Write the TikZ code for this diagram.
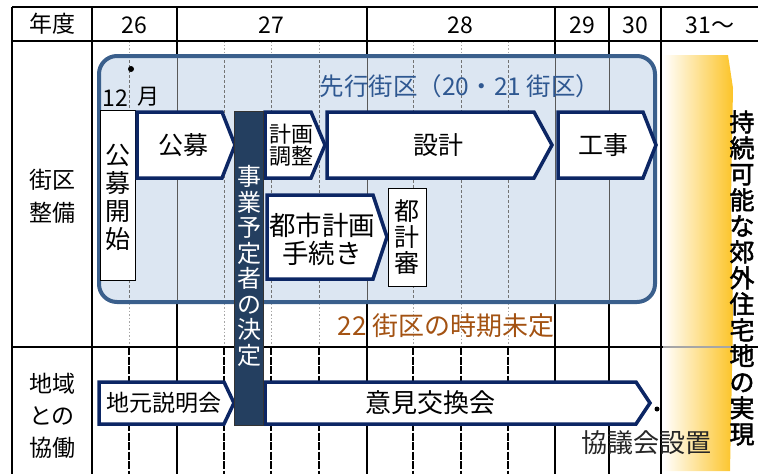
\documentclass[tikz,border=0pt]{standalone}
\usepackage{fontspec}
\setmainfont{Noto Sans CJK JP}
\newfontfamily\jpheavy{Noto Sans CJK JP}[FakeBold=1.9]
\definecolor{navy}{RGB}{12,38,100}
\definecolor{boxblue}{RGB}{58,95,140}
\definecolor{boxfill}{RGB}{220,230,242}
\definecolor{barfill}{RGB}{36,63,96}
\definecolor{txtblue}{RGB}{47,88,145}
\definecolor{brownt}{RGB}{163,82,18}
\definecolor{goldy}{RGB}{252,196,40}
\newcommand\fsz[2]{\fontsize{#1}{#2}\selectfont}
\tikzset{
  tabline/.style={line width=1.8pt, black},
  arrowbox/.style={draw=navy, line width=3.5pt, fill=white, line join=miter},
  plainbox/.style={draw=black, line width=0.9pt, fill=white},
  lbl/.style={inner sep=0pt, align=center},
}
\begin{document}
\begin{tikzpicture}[x=1pt,y=-1pt]
\useasboundingbox (0,0) rectangle (758,474);
\begin{scope}
\clip (0,0) rectangle (758,474);
% yellow band
\shade[left color=white, right color=goldy] (663,55) -- (728,55) -- (733,88) -- (731,200) -- (733,320) -- (730,471) -- (663,471) -- cycle;
% sub-month lines
\foreach \x in {129,224,271,319,413,461,508} {
  \draw[gray!70, line width=1pt, dash pattern=on 1.5pt off 2pt] (\x,41) -- (\x,347);
  \draw[black, line width=1.6pt, dash pattern=on 8pt off 1.5pt] (\x,347) -- (\x,474);
}
% table lines
\draw[tabline] (12,7) -- (758,7);
\draw[tabline] (12,41) -- (758,41);
\draw[tabline] (12,347) -- (663,347);
\draw[line width=1.8pt, gray!70] (663,347) -- (731,347);
\draw[tabline] (731,347) -- (758,347);
\foreach \x in {12,92,177,367,555,609,661} \draw[tabline] (\x,7) -- (\x,474);
% blue box
\fill[boxfill, rounded corners=18pt] (99,56) rectangle (655,302);
\begin{scope}
\clip[rounded corners=18pt] (99,56) rectangle (655,302);
\foreach \x in {177,367,555,609} \draw[black!65, line width=0.9pt] (\x,50) -- (\x,310);
\foreach \x in {129,224,271,319,413,461,508} \draw[black!55, line width=0.8pt, dash pattern=on 3pt off 2pt] (\x,50) -- (\x,310);
\end{scope}
\draw[boxblue, line width=4pt, rounded corners=18pt] (99,56) rectangle (655,302);
\fill (131,69) circle (3pt);
\end{scope}

% header
\node[lbl, font=\fsz{23}{23}] (hy) at (52,24) {年度};
\node[lbl, font=\fsz{23}{23}] (h26) at (134,25) {26};
\node[lbl, font=\fsz{23}{23}] (h27) at (271,25) {27};
\node[lbl, font=\fsz{23}{23}] (h28) at (460,25) {28};
\node[lbl, font=\fsz{23}{23}] (h29) at (582,25) {29};
\node[lbl, font=\fsz{23}{23}] (h30) at (635,25) {30};
\node[lbl, font=\fsz{23}{23}] (h31) at (710,25) {31～};
% row labels
\node[lbl, font=\fsz{23}{33}] (r1) at (52,196) {街区\\整備};
\node[lbl, font=\fsz{23}{32}] (r2) at (52,416) {地域\\との\\協働};

% texts in box
\node[lbl, font=\fsz{24.5}{24}, text=txtblue] (sen) at (460,86) {先行街区（20・21 街区）};
\node[lbl, font=\fsz{23}{23}] (m12) at (115,98) {12};
\node[lbl, font=\fsz{22}{22}] (mon) at (148,97) {月};

% 公募開始
\draw[plainbox] (100,110) rectangle (135,280);
\node[lbl, font=\fsz{25}{28}] (kbk) at (118,197) {公\\募\\開\\始};

% arrows
\draw[arrowbox] (137,112) -- (222,112) -- (235,145) -- (222,178) -- (137,178) -- cycle;
\node[lbl, font=\fsz{25}{25}] (kobo) at (183,145) {公募};
\draw[arrowbox] (265,112) -- (311,112) -- (325,145) -- (311,178) -- (265,178) -- cycle;
\node[lbl, font=\fsz{22}{22}] (kei) at (291,145) {計画\\調整};
\draw[arrowbox] (327,112) -- (534,112) -- (552,145) -- (534,178) -- (327,178) -- cycle;
\node[lbl, font=\fsz{25}{25}] (sek) at (438,145) {設計};
\draw[arrowbox] (558,112) -- (643,112) -- (656,145) -- (643,178) -- (558,178) -- cycle;
\node[lbl, font=\fsz{25}{25}] (koji) at (603,145) {工事};
\draw[arrowbox] (267,195) -- (373,195) -- (387,237) -- (373,279) -- (267,279) -- cycle;
\node[lbl, font=\fsz{26.5}{28}] (toshi) at (322,239) {都市計画\\手続き};
\draw[plainbox] (388,188) rectangle (426,286);
\node[lbl, font=\fsz{25}{26}] (tks) at (407,237) {都\\計\\審};

\node[lbl, font=\fsz{26}{26}, text=brownt] (t22) at (446,326) {22 街区の時期未定};

% bottom arrows
\draw[arrowbox] (99,382) -- (224,382) -- (234,403) -- (224,424) -- (99,424) -- cycle;
\node[lbl, font=\fsz{23}{23}] (jim) at (164,403) {地元説明会};
\draw[arrowbox] (265,382) -- (636,382) -- (650,403) -- (636,424) -- (265,424) -- cycle;
\node[lbl, font=\fsz{26}{26}] (iken) at (430,403) {意見交換会};
\fill (657,409) circle (2.5pt);
\node[lbl, font=\fsz{26}{26}, text=black!85] (kyo) at (646,443) {協議会設置};

% bar
\draw[fill=barfill, draw=black!80, line width=0.8pt] (234,111) rectangle (263,425);
\node[lbl, font=\fsz{24}{25.5}, text=white] (jig) at (249,266) {事\\業\\予\\定\\者\\の\\決\\定};

% band text
\node[lbl, font=\jpheavy\fsz{25}{26}] (band) at (742,278) {持\\続\\可\\能\\な\\郊\\外\\住\\宅\\地\\の\\実\\現};
\end{tikzpicture}
\end{document}
